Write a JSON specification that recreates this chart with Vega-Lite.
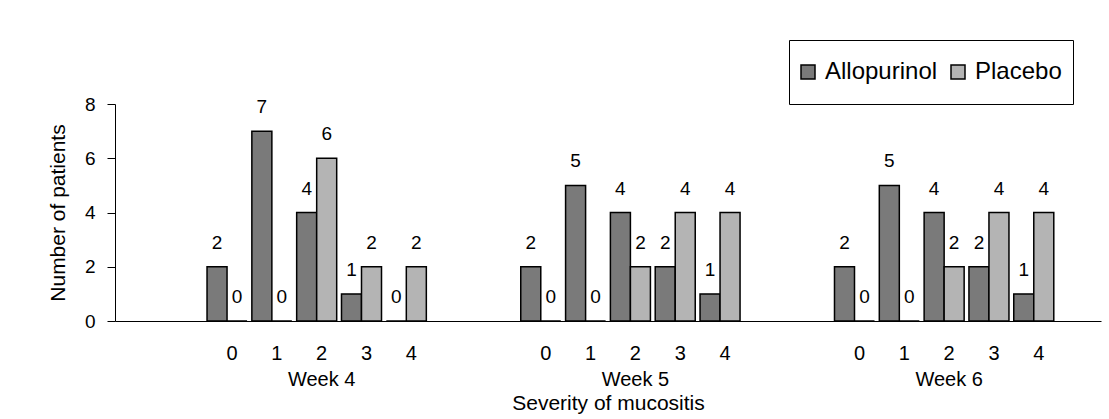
{
  "$schema": "https://vega.github.io/schema/vega-lite/v6.json",
  "width": 986,
  "height": 217,
  "autosize": {"type": "none"},
  "padding": {"left": 115, "top": 104, "right": 8, "bottom": 98},
  "background": "white",
  "config": {
    "view": {"stroke": null},
    "font": "Liberation Sans",
    "text": {"font": "Liberation Sans"}
  },
  "data": {
    "values": [
      {"week": "Week 4", "severity": "0", "slot": "4-0", "group": "Allopurinol", "n": 2},
      {"week": "Week 4", "severity": "0", "slot": "4-0", "group": "Placebo", "n": 0},
      {"week": "Week 4", "severity": "1", "slot": "4-1", "group": "Allopurinol", "n": 7},
      {"week": "Week 4", "severity": "1", "slot": "4-1", "group": "Placebo", "n": 0},
      {"week": "Week 4", "severity": "2", "slot": "4-2", "group": "Allopurinol", "n": 4},
      {"week": "Week 4", "severity": "2", "slot": "4-2", "group": "Placebo", "n": 6},
      {"week": "Week 4", "severity": "3", "slot": "4-3", "group": "Allopurinol", "n": 1},
      {"week": "Week 4", "severity": "3", "slot": "4-3", "group": "Placebo", "n": 2},
      {"week": "Week 4", "severity": "4", "slot": "4-4", "group": "Allopurinol", "n": 0},
      {"week": "Week 4", "severity": "4", "slot": "4-4", "group": "Placebo", "n": 2},
      {"week": "Week 5", "severity": "0", "slot": "5-0", "group": "Allopurinol", "n": 2},
      {"week": "Week 5", "severity": "0", "slot": "5-0", "group": "Placebo", "n": 0},
      {"week": "Week 5", "severity": "1", "slot": "5-1", "group": "Allopurinol", "n": 5},
      {"week": "Week 5", "severity": "1", "slot": "5-1", "group": "Placebo", "n": 0},
      {"week": "Week 5", "severity": "2", "slot": "5-2", "group": "Allopurinol", "n": 4},
      {"week": "Week 5", "severity": "2", "slot": "5-2", "group": "Placebo", "n": 2},
      {"week": "Week 5", "severity": "3", "slot": "5-3", "group": "Allopurinol", "n": 2},
      {"week": "Week 5", "severity": "3", "slot": "5-3", "group": "Placebo", "n": 4},
      {"week": "Week 5", "severity": "4", "slot": "5-4", "group": "Allopurinol", "n": 1},
      {"week": "Week 5", "severity": "4", "slot": "5-4", "group": "Placebo", "n": 4},
      {"week": "Week 6", "severity": "0", "slot": "6-0", "group": "Allopurinol", "n": 2},
      {"week": "Week 6", "severity": "0", "slot": "6-0", "group": "Placebo", "n": 0},
      {"week": "Week 6", "severity": "1", "slot": "6-1", "group": "Allopurinol", "n": 5},
      {"week": "Week 6", "severity": "1", "slot": "6-1", "group": "Placebo", "n": 0},
      {"week": "Week 6", "severity": "2", "slot": "6-2", "group": "Allopurinol", "n": 4},
      {"week": "Week 6", "severity": "2", "slot": "6-2", "group": "Placebo", "n": 2},
      {"week": "Week 6", "severity": "3", "slot": "6-3", "group": "Allopurinol", "n": 2},
      {"week": "Week 6", "severity": "3", "slot": "6-3", "group": "Placebo", "n": 4},
      {"week": "Week 6", "severity": "4", "slot": "6-4", "group": "Allopurinol", "n": 1},
      {"week": "Week 6", "severity": "4", "slot": "6-4", "group": "Placebo", "n": 4}
    ]
  },
  "encoding": {
    "x": {
      "field": "slot",
      "type": "nominal",
      "scale": {
        "domain": ["b1", "b2", "4-0", "4-1", "4-2", "4-3", "4-4", "b3", "b4", "5-0", "5-1", "5-2", "5-3", "5-4", "b5", "b6", "6-0", "6-1", "6-2", "6-3", "6-4", "b7"],
        "paddingInner": 0.107,
        "paddingOuter": 0.0535
      },
      "axis": {
        "title": "Severity of mucositis",
        "titleFontSize": 21,
        "titleFontWeight": "normal",
        "titleColor": "black",
        "titlePadding": 3,
        "labelFontSize": 20,
        "labelColor": "black",
        "labelAngle": 0,
        "labelPadding": 22,
        "labelOffset": 5,
        "labelLineHeight": 26,
        "labelBound": false,
        "labelOverlap": false,
        "ticks": false,
        "tickSize": 0,
        "domainColor": "black",
        "domainWidth": 1,
        "labelExpr": "indexof(datum.value, 'b') == 0 ? '' : (slice(datum.value, 2) == '2' ? ['2', 'Week ' + slice(datum.value, 0, 1)] : slice(datum.value, 2))"
      }
    },
    "xOffset": {
      "field": "group",
      "type": "nominal",
      "scale": {"domain": ["Allopurinol", "Placebo"], "paddingInner": 0, "paddingOuter": 0}
    },
    "y": {
      "field": "n",
      "type": "quantitative",
      "scale": {"domain": [0, 8]},
      "axis": {
        "title": "Number of patients",
        "titleFontSize": 21,
        "titleFontWeight": "normal",
        "titleColor": "black",
        "titlePadding": 16,
        "values": [0, 2, 4, 6, 8],
        "labelFontSize": 19,
        "labelColor": "black",
        "labelPadding": 12,
        "tickSize": 8,
        "tickColor": "black",
        "domainColor": "black",
        "grid": false
      }
    }
  },
  "layer": [
    {
      "mark": {"type": "bar", "stroke": "black", "strokeWidth": 1.5},
      "encoding": {
        "fill": {
          "field": "group",
          "type": "nominal",
          "scale": {"domain": ["Allopurinol", "Placebo"], "range": ["#7a7a7a", "#b4b4b4"]},
          "legend": {
            "orient": "none",
            "legendX": 674,
            "legendY": -64,
            "direction": "horizontal",
            "title": null,
            "labelFontSize": 24,
            "labelColor": "black",
            "symbolType": "square",
            "symbolSize": 196,
            "symbolStrokeColor": "black",
            "symbolStrokeWidth": 1.5,
            "symbolOpacity": 1,
            "symbolOffset": -4,
            "padding": 11,
            "strokeColor": "black",
            "fillColor": "white",
            "labelOffset": 5,
            "columnPadding": 12,
            "clipHeight": 42,
            "labelLimit": 300
          }
        }
      }
    },
    {
      "mark": {"type": "text", "dy": -24, "fontSize": 19, "baseline": "middle", "color": "black"},
      "encoding": {"text": {"field": "n", "type": "quantitative"}}
    }
  ]
}
